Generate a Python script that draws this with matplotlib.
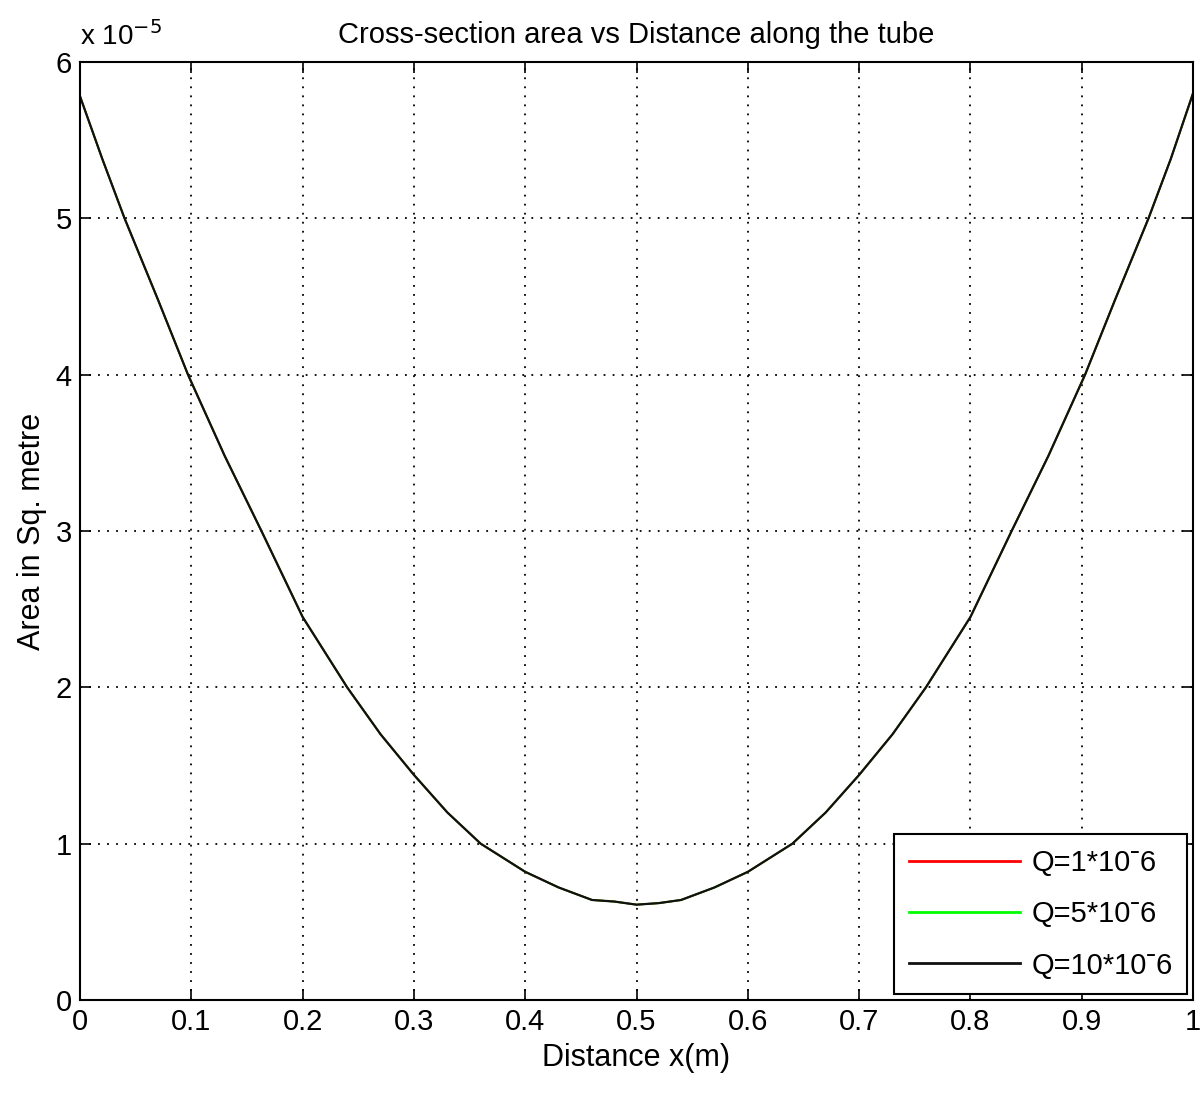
import matplotlib.pyplot as plt
from matplotlib.ticker import FormatStrFormatter

plt.rcParams['font.family'] = ['Liberation Sans', 'DejaVu Sans']

# distance along the tube (m)
x_pos = [0, 0.02, 0.04, 0.07, 0.097, 0.13, 0.163, 0.2, 0.24, 0.27, 0.3, 0.33,
         0.36, 0.4, 0.43, 0.46, 0.48, 0.5, 0.52, 0.54, 0.57, 0.6, 0.64, 0.67,
         0.7, 0.73, 0.76, 0.8, 0.837, 0.87, 0.903, 0.93, 0.96, 0.98, 1.0]

# area in units of 1e-5 m^2 (the three flow rates overlap on the plot)
area_q1 = [5.78, 5.38, 5.0, 4.48, 4.0, 3.48, 3.0, 2.45, 2.0, 1.70, 1.44, 1.20,
           1.0, 0.82, 0.72, 0.64, 0.63, 0.61, 0.62, 0.64, 0.72, 0.82, 1.0, 1.20,
           1.44, 1.70, 2.0, 2.45, 3.0, 3.48, 4.0, 4.48, 5.0, 5.38, 5.80]
area_q5 = list(area_q1)
area_q10 = list(area_q1)

labels = ['Q=1*10\u02c96', 'Q=5*10\u02c96', 'Q=10*10\u02c96']

fig = plt.figure(figsize=(12, 11.01), dpi=100)
ax = fig.add_axes([0.0667, 0.0917, 0.9275, 0.852])

ax.plot(x_pos, area_q1, color='red', lw=1.3, label=labels[0])
ax.plot(x_pos, area_q5, color='#00ff00', lw=1.3, label=labels[1])
ax.plot(x_pos, area_q10, color='#111111', lw=1.6, label=labels[2])

ax.set_xlim(0, 1)
ax.set_ylim(0, 6)
ax.set_xticks([i / 10 for i in range(11)])
ax.set_yticks(range(7))
ax.xaxis.set_major_formatter(FormatStrFormatter('%g'))
ax.tick_params(direction='in', top=True, right=True, length=8, width=1.2,
               labelsize=21, pad=6)
ax.grid(True, linestyle=(0, (1, 4)), color='black', lw=1.3)
for s in ax.spines.values():
    s.set_linewidth(1.5)

ax.set_xlabel('Distance x(m)', fontsize=22, labelpad=5)
ax.set_ylabel('Area in Sq. metre', fontsize=22, labelpad=6)
ax.set_title('Cross-section area vs Distance along the tube', fontsize=21, pad=14)
ax.text(0.0, 1.012, 'x 10$^{-5}$', transform=ax.transAxes, fontsize=20,
        ha='left', va='bottom')

leg = ax.legend(loc='lower right', fontsize=21, handlelength=3.8,
                fancybox=False, edgecolor='black', framealpha=1,
                borderaxespad=0.2, labelspacing=0.8, borderpad=0.5,
                handletextpad=0.4)
leg.get_frame().set_linewidth(1.5)
for ln in leg.get_lines():
    ln.set_linewidth(2)

fig.savefig('out.png', dpi=100)
